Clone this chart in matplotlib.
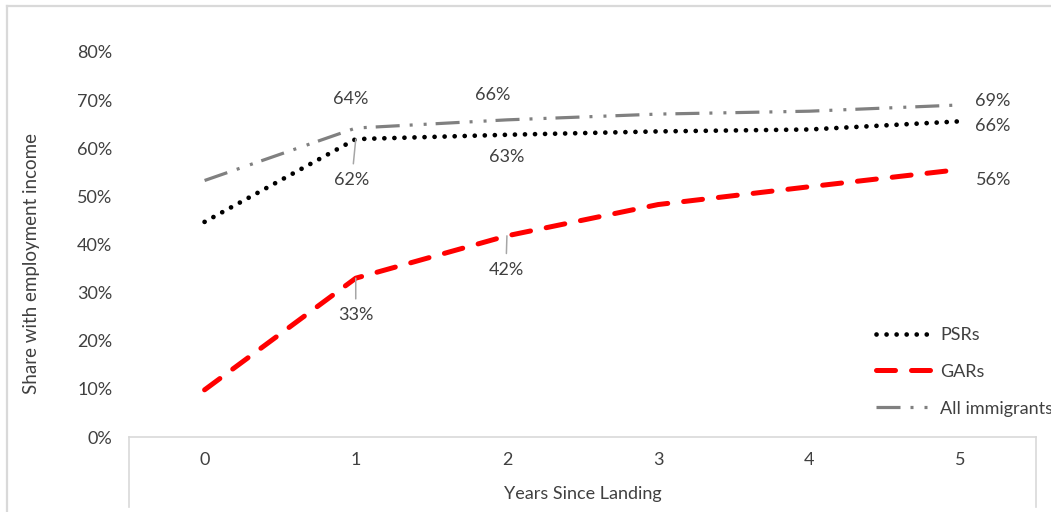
import matplotlib
matplotlib.use("Agg")
import matplotlib.pyplot as plt
from matplotlib.lines import Line2D

plt.rcParams['font.family'] = ['Lato', 'DejaVu Sans']

# Data
years = [0, 1, 2, 3, 4, 5]
psr = [44.7, 61.9, 62.8, 63.5, 63.9, 65.6]
gar = [9.8, 33.0, 41.8, 48.3, 52.0, 55.6]
all_imm = [53.3, 64.2, 65.9, 67.1, 67.7, 69.0]
series_names = ["PSRs", "GARs", "All immigrants"]
y_ticks = [0, 10, 20, 30, 40, 50, 60, 70, 80]

W, H = 1051, 512
TXT = '#404040'
EDGE = '#D9D9D9'
FS = 13

fig = plt.figure(figsize=(W / 100, H / 100), dpi=100)

# axes placed in pixel terms
left, right, top, bottom = 129, 1036, 52, 437
ax = fig.add_axes([left / W, 1 - bottom / H, (right - left) / W, (bottom - top) / H])

def dash_pts(px_pattern, lw_pt):
    # convert a pixel dash pattern to units of linewidth
    return [p * 0.72 / lw_pt for p in px_pattern]

lw_all = 2.3
l_all, = ax.plot(years, all_imm, color='#808080', lw=lw_all,
                 dashes=dash_pts([24, 10, 3, 11, 3, 9], lw_all),
                 dash_capstyle='butt', zorder=2)
lw_psr = 3.4
l_psr, = ax.plot(years, psr, color='black', lw=lw_psr,
                 dashes=[0.01, 10 * 0.72 / lw_psr], dash_capstyle='round', zorder=3)
lw_gar = 3.6
l_gar, = ax.plot(years, gar, color='#FF0000', lw=lw_gar,
                 dashes=dash_pts([19, 16], lw_gar), dash_capstyle='round', zorder=3)

ax.set_xlim(-0.5, 5.5)
ax.set_ylim(0, 80)
ax.set_xticks(years)
ax.set_xticklabels([str(y) for y in years])
ax.set_yticks(y_ticks)
ax.set_yticklabels([f"{t}%" for t in y_ticks])
ax.tick_params(axis='both', length=0, labelsize=FS, labelcolor=TXT)
ax.tick_params(axis='x', pad=11)
ax.tick_params(axis='y', pad=12)
for s in ['top', 'right', 'left']:
    ax.spines[s].set_visible(False)
ax.spines['bottom'].set_color(EDGE)
ax.spines['bottom'].set_linewidth(1.2)

# category box lines below the axis
for xp in (left, right):
    fig.add_artist(Line2D([xp / W, xp / W], [1 - bottom / H, 1 - 507 / H],
                          color=EDGE, lw=1.2, transform=fig.transFigure))

# outer frame (top and left edges)
fig.add_artist(Line2D([6.5 / W, 1.0], [1 - 5.5 / H, 1 - 5.5 / H],
                      color=EDGE, lw=1.6, transform=fig.transFigure))
fig.add_artist(Line2D([6.5 / W, 6.5 / W], [1 - 5.5 / H, 0],
                      color=EDGE, lw=1.6, transform=fig.transFigure))

fig.text(32 / W, 1 - 264 / H, "Share with employment income", rotation=90,
         ha='center', va='center', fontsize=13.5, color=TXT)
fig.text(583 / W, 1 - 494 / H, "Years Since Landing",
         ha='center', va='center', fontsize=FS, color=TXT)

# data labels
def label(series, i, dx, dy, ha='center', leader=False):
    v = series[i]
    kw = {}
    if leader:
        kw['arrowprops'] = dict(arrowstyle='-', color='#A6A6A6', lw=1.1,
                                shrinkA=4, shrinkB=0)
    ax.annotate(f"{round(v):.0f}%", xy=(years[i], v), xytext=(dx, dy),
                textcoords='offset pixels', ha=ha, va='center',
                fontsize=FS, color=TXT, **kw)

label(all_imm, 1, -5, 29)
label(all_imm, 2, -14, 25)
label(all_imm, 5, 15, 4, ha='left')
label(psr, 1, -4, -41, leader=True)
label(psr, 2, 0, -22)
label(psr, 5, 15, -5, ha='left')
label(gar, 1, 0, -37, leader=True)
label(gar, 2, -1, -34, leader=True)
label(gar, 5, 16, -11, ha='left')

leg = ax.legend([l_psr, l_gar, l_all], series_names, loc='upper left',
                bbox_to_anchor=(876 / W, 1 - 327 / H), bbox_transform=fig.transFigure,
                frameon=False, fontsize=FS, labelcolor=TXT, handlelength=3.15,
                handletextpad=0.39, labelspacing=1.15, borderpad=0, borderaxespad=0)

fig.savefig("out.png", dpi=100)
